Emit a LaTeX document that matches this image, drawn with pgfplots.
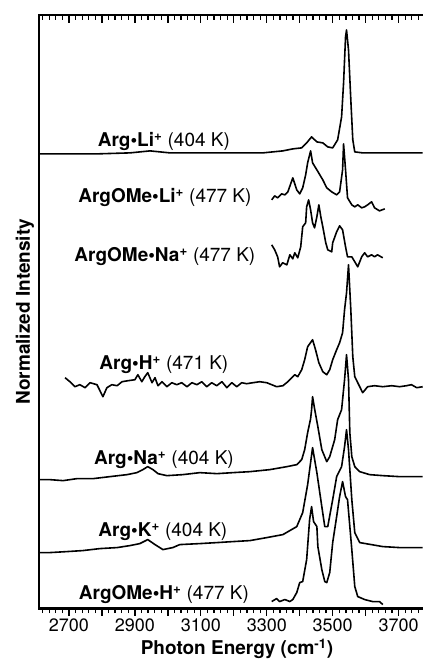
\documentclass[border=0pt]{standalone}
\usepackage{pgfplots}
\pgfplotsset{compat=1.18}
\usepackage{fontspec}
\setmainfont{TeX Gyre Heros}

\newcommand{\spec}[2]{\textbf{#1\textsuperscript{+}} (#2)}

\pgfplotsset{
  spec/.style={black, solid, line width=1.6pt, line join=round, mark=none},
}

\begin{document}
\begin{tikzpicture}
% page frame of the reference, 423 x 662
\path (0pt,0pt) rectangle (423pt,662pt);

\begin{axis}[
    at={(39pt,53pt)}, anchor=south west,
    scale only axis, width=384pt, height=594pt,
    xmin=2609, xmax=3773, ymin=0, ymax=594,
    axis x line*=bottom, axis y line*=left,
    axis line style={-},
    xtick={2700,2800,...,3700},
    minor xtick={2620,2640,...,3760},
    ytick=\empty,
    xtick pos=left, tick align=outside,
    major tick length=7pt, minor tick length=4.5pt,
    tick style={draw=black, line width=1.3pt},
    xticklabels={2700,,2900,,3100,,3300,,3500,,3700},
    /pgf/number format/assume math mode=true,
    xticklabel style={font=\fontsize{18}{20}\selectfont},
    xlabel={\textbf{Photon Energy (cm\textsuperscript{-1})}},
    xlabel style={font=\fontsize{19}{22}\selectfont,
      at={(axis description cs:0.516,0)}, anchor=base, yshift=-46pt},
    ylabel={\textbf{Normalized Intensity}},
    ylabel style={font=\fontsize{19}{22}\selectfont,
      at={(axis description cs:-0.0234,0.5)}, anchor=base},
    clip=false,
  ]

% Arg.Li+ (404 K)
\addplot[spec] coordinates {
(2609,455) (2785,455) (2885,456) (2946,458) (3006,456) (3188,456) (3288,456)
(3349,458) (3379,460) (3406,461) (3421,466) (3436,472) (3452,467) (3470,466)
(3485,462) (3500,461) (3515,469) (3527,492) (3533,526) (3539,572) (3542,579)
(3548,559) (3555,509) (3561,469) (3567,457) (3591,456) (3773,456)
};

% ArgOMe.Li+ (477 K)
\addplot[spec] coordinates {
(3315,409) (3324,413) (3333,411) (3345,415) (3355,414) (3364,417) (3379,431)
(3391,419) (3400,415) (3409,421) (3418,434) (3424,446) (3433,458) (3439,446)
(3452,439) (3461,434) (3470,429) (3482,421) (3497,417) (3512,414) (3521,417)
(3530,439) (3533,465) (3539,439) (3545,411) (3558,404) (3567,402) (3576,404)
(3588,401) (3597,402) (3606,404) (3618,407) (3627,401) (3642,398) (3658,400)
};

% ArgOMe.Na+ (477 K)
\addplot[spec] coordinates {
(3315,364) (3324,359) (3333,352) (3339,342) (3348,346) (3361,344) (3370,354)
(3379,350) (3385,356) (3394,351) (3403,362) (3409,382) (3418,386) (3421,402)
(3427,409) (3433,399) (3439,386) (3445,381) (3452,392) (3458,404) (3464,392)
(3470,382) (3479,366) (3485,359) (3497,357) (3500,366) (3512,377) (3521,383)
(3530,379) (3539,362) (3545,352) (3558,352) (3567,347) (3576,342) (3588,352)
(3597,356) (3606,352) (3618,354) (3627,352) (3636,354) (3652,351)
};

% Arg.H+ (471 K)
\addplot[spec] coordinates {
(2688,231) (2703,227) (2718,222) (2733,224) (2749,221) (2764,226) (2785,224)
(2803,212) (2815,221) (2830,224) (2846,223) (2861,227) (2879,228) (2900,229)
(2909,234) (2921,227) (2930,232) (2939,236) (2952,226) (2961,231) (2970,223)
(2982,227) (2997,222) (3012,226) (3027,224) (3042,226) (3058,222) (3073,226)
(3088,224) (3103,227) (3118,222) (3133,226) (3148,223) (3164,227) (3179,221)
(3194,226) (3209,222) (3224,226) (3239,225) (3258,226) (3279,227) (3300,226)
(3315,224) (3330,222) (3349,223) (3364,227) (3376,231) (3385,234) (3394,232)
(3406,239) (3415,249) (3424,262) (3439,269) (3448,259) (3458,246) (3470,237)
(3482,234) (3491,239) (3500,249) (3512,259) (3521,266) (3530,276) (3536,299)
(3542,316) (3548,344) (3555,299) (3561,252) (3567,232) (3576,226) (3591,216)
(3606,222) (3627,223) (3652,222) (3679,223) (3703,222) (3724,223) (3739,224)
(3755,221) (3773,222)
};

% Arg.Na+ (404 K)
\addplot[spec] coordinates {
(2609,129) (2642,129) (2682,128) (2724,130) (2773,130) (2824,132) (2876,134)
(2906,136) (2924,139) (2939,142) (2955,139) (2970,135) (2997,133) (3045,134)
(3097,136) (3149,135) (3197,136) (3249,137) (3309,139) (3361,142) (3391,144)
(3406,149) (3415,159) (3424,176) (3433,190) (3436,199) (3439,212) (3445,200)
(3455,182) (3467,159) (3482,147) (3491,152) (3506,169) (3515,189) (3527,199)
(3530,209) (3536,229) (3542,254) (3548,229) (3552,176) (3558,152) (3567,142)
(3582,137) (3612,134) (3652,133) (3703,132) (3773,132)
};

% Arg.K+ (404 K)
\addplot[spec] coordinates {
(2609,56) (2642,56) (2694,57) (2742,58) (2794,60) (2846,61) (2885,63)
(2915,65) (2939,69) (2961,64) (2985,59) (3015,61) (3036,64) (3097,65)
(3149,66) (3197,67) (3249,68) (3300,71) (3349,74) (3391,82) (3409,96)
(3424,124) (3439,161) (3452,136) (3467,102) (3476,82) (3485,82) (3500,109)
(3512,132) (3527,142) (3536,162) (3542,179) (3548,159) (3558,109) (3567,76)
(3582,66) (3652,62) (3703,61) (3773,61)
};

% ArgOMe.H+ (477 K)
\addplot[spec] coordinates {
(3315,7) (3330,10) (3339,7) (3355,9) (3370,7) (3379,9) (3391,16) (3400,26)
(3409,27) (3421,49) (3430,89) (3436,102) (3442,87) (3452,82) (3455,62)
(3467,39) (3476,27) (3482,26) (3491,36) (3500,66) (3512,92) (3521,112)
(3530,127) (3539,112) (3545,109) (3558,59) (3567,22) (3576,12) (3597,9)
(3621,7) (3642,7) (3652,4)
};

\begin{scope}[every node/.style={font=\fontsize{19}{22}\selectfont, anchor=base, inner sep=0pt}]
\node at (axis cs:2988,462) {\spec{Arg•Li}{404 K}};
\node at (axis cs:2991,406) {\spec{ArgOMe•Li}{477 K}};
\node at (axis cs:2991,347) {\spec{ArgOMe•Na}{477 K}};
\node at (axis cs:2988,239) {\spec{Arg•H}{471 K}};
\node at (axis cs:2988,144) {\spec{Arg•Na}{404 K}};
\node at (axis cs:2985,72) {\spec{Arg•K}{404 K}};
\node at (axis cs:2988,9) {\spec{ArgOMe•H}{477 K}};
\end{scope}
\end{axis}

% heavy frame: left, top and bottom edges (the right edge is cut off)
\draw[line width=2.5pt, line join=miter]
  (423pt,53pt) -- (39pt,53pt) -- (39pt,647pt) -- (423pt,647pt);
% top ticks point inward
\foreach \v in {2620,2640,...,3760}
  \draw[line width=1.3pt] ({39pt+(\v-2609)*0.329897pt},647pt) -- ++(0pt,-5pt);
\foreach \v in {2700,2800,...,3700}
  \draw[line width=1.3pt] ({39pt+(\v-2609)*0.329897pt},647pt) -- ++(0pt,-8pt);
\end{tikzpicture}
\end{document}
